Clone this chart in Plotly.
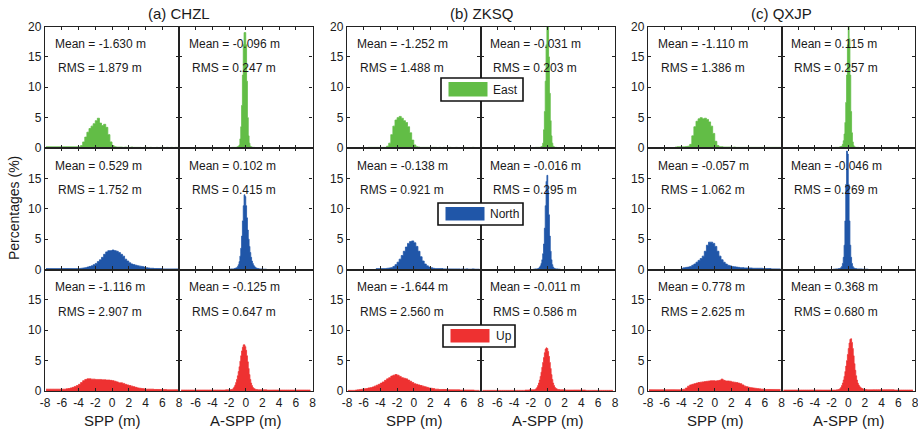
import plotly.graph_objects as go

# ---------------- data ----------------
STATIONS = ["(a) CHZL", "(b) ZKSQ", "(c) QXJP"]
COMPONENTS = ["East", "North", "Up"]
COLORS = ["#62BD46", "#2056A8", "#EE3131"]
X_TICKS = [-8, -6, -4, -2, 0, 2, 4, 6, 8]
Y_TICKS = [0, 5, 10, 15, 20]
X_TITLES = ["SPP (m)", "A-SPP (m)"]
Y_TITLE = "Percentages (%)"

SPP_BIN_START, SPP_BIN_WIDTH = -8.0, 0.25      # 64 bins over [-8, 8]
ASPP_BIN_START, ASPP_BIN_WIDTH = -3.0, 0.1     # 60 bins over [-3, 3]
TAIL_LO_START, TAIL_HI_START, TAIL_BIN_WIDTH = -8.0, 3.0, 0.5  # 10 bins each side

# --- CHZL ---
CHZL_E_SPP = [0.2, 0.2, 0.2, 0.2, 0.2, 0.2, 0.2, 0.2,
              0.2, 0.2, 0.2, 0.2, 0.2, 0.2, 0.2, 0.2,
              0.2, 0.4, 1.0, 1.8, 2.6, 3.2, 3.6, 4.0,
              4.5, 4.9, 4.1, 3.7, 3.9, 3.4, 2.2, 1.0,
              0.4, 0.2, 0.15, 0.15, 0.15, 0.1, 0.15, 0.1,
              0.1, 0.15, 0.1, 0.1, 0.1, 0.1, 0.05, 0.1,
              0.1, 0.05, 0.1, 0.0, 0.05, 0.1, 0.05, 0.1,
              0.1, 0.0, 0.1, 0.05, 0.1, 0.0, 0.1, 0.1]
CHZL_N_SPP = [0.15, 0.15, 0.15, 0.15, 0.15, 0.15, 0.15, 0.15,
              0.15, 0.15, 0.15, 0.15, 0.15, 0.15, 0.15, 0.15,
              0.15, 0.2, 0.25, 0.3, 0.4, 0.5, 0.6, 0.8,
              1.0, 1.3, 1.6, 2.0, 2.5, 2.9, 3.1, 3.1,
              3.2, 3.1, 3.0, 2.8, 2.5, 2.2, 1.7, 1.4,
              1.1, 0.9, 0.8, 0.7, 0.6, 0.55, 0.5, 0.4,
              0.3, 0.25, 0.2, 0.2, 0.15, 0.15, 0.15, 0.15,
              0.1, 0.1, 0.1, 0.1, 0.1, 0.1, 0.1, 0.1]
CHZL_U_SPP = [0.3, 0.3, 0.3, 0.3, 0.3, 0.3, 0.3, 0.3,
              0.3, 0.3, 0.35, 0.4, 0.5, 0.6, 0.75, 0.9,
              1.1, 1.4, 1.7, 1.9, 2.0, 2.0, 1.95, 1.95,
              1.9, 1.9, 1.9, 1.85, 1.85, 1.8, 1.8, 1.75,
              1.7, 1.6, 1.5, 1.35, 1.35, 1.25, 1.1, 1.0,
              0.9, 0.8, 0.7, 0.6, 0.5, 0.45, 0.4, 0.35,
              0.3, 0.3, 0.3, 0.3, 0.25, 0.25, 0.25, 0.25,
              0.25, 0.25, 0.2, 0.2, 0.2, 0.2, 0.2, 0.2]
CHZL_E_ASPP = [0.05, 0.05, 0.05, 0.05, 0.05, 0.05, 0.05, 0.05, 0.05, 0.05,
               0.05, 0.05, 0.05, 0.1, 0.1, 0.1, 0.1, 0.1, 0.1, 0.15,
               0.2, 0.3, 0.5, 1.5, 3.5, 7.0, 12.0, 17.0, 19.0, 19.0,
               17.0, 11.0, 5.0, 2.0, 0.8, 0.3, 0.2, 0.15, 0.1, 0.1,
               0.1, 0.05, 0.05, 0.05, 0.05, 0.05, 0.05, 0.05, 0.05, 0.05,
               0.0, 0.0, 0.0, 0.0, 0.0, 0.0, 0.0, 0.0, 0.0, 0.0]
CHZL_N_ASPP = [0.0, 0.0, 0.0, 0.0, 0.0, 0.0, 0.0, 0.0, 0.0, 0.0,
               0.05, 0.05, 0.1, 0.1, 0.1, 0.1, 0.15, 0.2, 0.25, 0.3,
               0.5, 0.8, 1.3, 2.2, 3.5, 5.5, 8.0, 10.5, 12.3, 12.0,
               10.5, 8.5, 6.5, 5.0, 3.8, 2.8, 2.0, 1.4, 1.0, 0.7,
               0.5, 0.35, 0.25, 0.2, 0.15, 0.15, 0.1, 0.1, 0.1, 0.1,
               0.05, 0.05, 0.05, 0.05, 0.05, 0.0, 0.0, 0.0, 0.0, 0.0]
CHZL_U_ASPP = [0.15, 0.15, 0.15, 0.15, 0.15, 0.15, 0.2, 0.2, 0.2, 0.2,
               0.2, 0.2, 0.25, 0.25, 0.3, 0.5, 0.7, 1.0, 1.4, 1.9,
               2.5, 3.2, 4.0, 4.9, 5.8, 6.6, 7.2, 7.6, 7.6, 7.3,
               6.7, 5.8, 4.8, 3.7, 2.7, 1.9, 1.3, 0.9, 0.6, 0.45,
               0.35, 0.3, 0.25, 0.25, 0.2, 0.2, 0.2, 0.2, 0.2, 0.2,
               0.2, 0.2, 0.2, 0.2, 0.2, 0.15, 0.15, 0.15, 0.15, 0.15]
CHZL_U_ASPP_TAIL_LO = [0.15, 0.15, 0.15, 0.15, 0.15, 0.15, 0.15, 0.15, 0.15, 0.15]
CHZL_U_ASPP_TAIL_HI = [0.15, 0.15, 0.15, 0.15, 0.15, 0.15, 0.15, 0.15, 0.15, 0.15]
CHZL_SPP_MEAN, CHZL_SPP_RMS = [-1.630, 0.529, -1.116], [1.879, 1.752, 2.907]
CHZL_ASPP_MEAN, CHZL_ASPP_RMS = [-0.096, 0.102, -0.125], [0.247, 0.415, 0.647]

# --- ZKSQ ---
ZKSQ_E_SPP = [0.0, 0.0, 0.0, 0.0, 0.0, 0.0, 0.0, 0.0,
              0.0, 0.0, 0.1, 0.1, 0.1, 0.1, 0.1, 0.1,
              0.1, 0.1, 0.1, 0.3, 0.8, 2.2, 3.6, 4.6,
              5.0, 5.2, 4.9, 4.5, 4.2, 3.5, 2.5, 1.3,
              0.5, 0.2, 0.15, 0.1, 0.1, 0.1, 0.1, 0.1,
              0.1, 0.1, 0.1, 0.05, 0.1, 0.05, 0.1, 0.05,
              0.05, 0.1, 0.05, 0.0, 0.1, 0.05, 0.0, 0.05,
              0.1, 0.05, 0.0, 0.05, 0.1, 0.05, 0.0, 0.05]
ZKSQ_N_SPP = [0.0, 0.0, 0.0, 0.0, 0.0, 0.0, 0.0, 0.0,
              0.0, 0.0, 0.0, 0.0, 0.0, 0.0, 0.15, 0.15,
              0.15, 0.15, 0.15, 0.2, 0.25, 0.3, 0.5, 0.8,
              1.2, 1.7, 2.3, 3.0, 3.7, 4.3, 4.6, 4.7,
              4.4, 3.8, 3.0, 2.1, 1.4, 0.9, 0.6, 0.4,
              0.3, 0.2, 0.15, 0.15, 0.15, 0.15, 0.1, 0.1,
              0.1, 0.1, 0.1, 0.1, 0.1, 0.1, 0.05, 0.1,
              0.05, 0.1, 0.05, 0.05, 0.1, 0.05, 0.05, 0.05]
ZKSQ_U_SPP = [0.1, 0.1, 0.1, 0.1, 0.15, 0.2, 0.25, 0.3,
              0.35, 0.4, 0.5, 0.55, 0.65, 0.8, 0.95, 1.1,
              1.3, 1.5, 1.75, 2.0, 2.2, 2.45, 2.6, 2.7,
              2.6, 2.4, 2.2, 2.1, 2.0, 1.8, 1.6, 1.4,
              1.2, 1.1, 1.0, 0.9, 0.8, 0.7, 0.6, 0.5,
              0.45, 0.4, 0.3, 0.3, 0.25, 0.25, 0.25, 0.25,
              0.2, 0.2, 0.2, 0.2, 0.2, 0.2, 0.15, 0.15,
              0.15, 0.15, 0.15, 0.15, 0.15, 0.1, 0.1, 0.1]
ZKSQ_E_ASPP = [0.0, 0.0, 0.0, 0.0, 0.0, 0.0, 0.0, 0.0, 0.0, 0.0,
               0.0, 0.0, 0.0, 0.0, 0.0, 0.1, 0.1, 0.1, 0.1, 0.1,
               0.1, 0.15, 0.2, 0.3, 0.8, 3.0, 6.0, 11.0, 17.0, 21.0,
               20.0, 15.0, 9.0, 4.5, 2.0, 0.8, 0.3, 0.2, 0.1, 0.1,
               0.1, 0.05, 0.05, 0.0, 0.0, 0.0, 0.0, 0.0, 0.0, 0.0,
               0.0, 0.0, 0.0, 0.0, 0.0, 0.0, 0.0, 0.0, 0.0, 0.0]
ZKSQ_N_ASPP = [0.0, 0.0, 0.0, 0.0, 0.0, 0.0, 0.0, 0.0, 0.0, 0.0,
               0.0, 0.0, 0.0, 0.05, 0.05, 0.1, 0.1, 0.1, 0.15, 0.2,
               0.4, 0.6, 1.0, 1.6, 2.6, 4.2, 6.8, 10.5, 14.5, 15.5,
               13.0, 9.0, 5.5, 3.0, 1.6, 0.8, 0.4, 0.2, 0.15, 0.1,
               0.1, 0.1, 0.05, 0.05, 0.05, 0.0, 0.0, 0.0, 0.0, 0.0,
               0.0, 0.0, 0.0, 0.0, 0.0, 0.0, 0.0, 0.0, 0.0, 0.0]
ZKSQ_U_ASPP = [0.1, 0.1, 0.1, 0.15, 0.15, 0.15, 0.15, 0.15, 0.2, 0.2,
               0.2, 0.2, 0.2, 0.2, 0.2, 0.3, 0.4, 0.6, 0.9, 1.3,
               1.8, 2.4, 3.1, 3.9, 4.7, 5.5, 6.3, 6.9, 7.1, 7.0,
               6.5, 5.7, 4.7, 3.7, 2.7, 1.9, 1.3, 0.9, 0.6, 0.45,
               0.35, 0.3, 0.25, 0.25, 0.2, 0.2, 0.2, 0.2, 0.2, 0.2,
               0.2, 0.15, 0.15, 0.15, 0.15, 0.15, 0.15, 0.15, 0.15, 0.15]
ZKSQ_U_ASPP_TAIL_LO = [0.1, 0.1, 0.1, 0.1, 0.1, 0.1, 0.1, 0.1, 0.1, 0.1]
ZKSQ_U_ASPP_TAIL_HI = [0.15, 0.15, 0.15, 0.1, 0.1, 0.1, 0.1, 0.1, 0.1, 0.1]
ZKSQ_SPP_MEAN, ZKSQ_SPP_RMS = [-1.252, -0.138, -1.644], [1.488, 0.921, 2.560]
ZKSQ_ASPP_MEAN, ZKSQ_ASPP_RMS = [-0.031, -0.016, -0.011], [0.203, 0.295, 0.586]

# --- QXJP ---
QXJP_E_SPP = [0.0, 0.0, 0.0, 0.0, 0.0, 0.0, 0.0, 0.0,
              0.0, 0.0, 0.0, 0.0, 0.0, 0.15, 0.2, 0.2,
              0.2, 0.2, 0.25, 0.3, 0.6, 2.0, 3.5, 4.4,
              4.8, 5.0, 4.8, 4.9, 4.7, 4.3, 3.6, 2.4,
              1.1, 0.4, 0.2, 0.2, 0.15, 0.15, 0.15, 0.15,
              0.1, 0.15, 0.1, 0.1, 0.1, 0.1, 0.1, 0.1,
              0.1, 0.1, 0.1, 0.1, 0.1, 0.1, 0.1, 0.1,
              0.1, 0.1, 0.1, 0.1, 0.1, 0.1, 0.1, 0.1]
QXJP_N_SPP = [0.0, 0.0, 0.0, 0.0, 0.0, 0.0, 0.0, 0.0,
              0.0, 0.0, 0.0, 0.0, 0.0, 0.0, 0.0, 0.0,
              0.2, 0.3, 0.35, 0.4, 0.5, 0.7, 0.9, 1.2,
              1.5, 1.8, 2.2, 3.0, 4.0, 4.5, 4.5, 4.3,
              3.8, 3.0, 2.2, 1.6, 1.2, 0.9, 0.7, 0.6,
              0.5, 0.45, 0.4, 0.35, 0.3, 0.3, 0.25, 0.25,
              0.25, 0.25, 0.2, 0.2, 0.2, 0.2, 0.2, 0.15,
              0.15, 0.15, 0.15, 0.1, 0.1, 0.1, 0.1, 0.1]
QXJP_U_SPP = [0.2, 0.2, 0.2, 0.2, 0.2, 0.2, 0.2, 0.2,
              0.2, 0.2, 0.2, 0.2, 0.2, 0.2, 0.2, 0.2,
              0.25, 0.3, 0.5, 0.8, 1.0, 1.1, 1.2, 1.3,
              1.4, 1.45, 1.5, 1.55, 1.6, 1.65, 1.7, 1.7,
              1.65, 1.7, 1.75, 1.95, 1.75, 1.65, 1.65, 1.6,
              1.5, 1.45, 1.4, 1.3, 1.2, 1.0, 0.8, 0.7,
              0.6, 0.55, 0.5, 0.45, 0.4, 0.35, 0.3, 0.3,
              0.25, 0.25, 0.25, 0.25, 0.25, 0.25, 0.25, 0.25]
QXJP_E_ASPP = [0.0, 0.0, 0.0, 0.0, 0.0, 0.0, 0.0, 0.0, 0.0, 0.0,
               0.05, 0.05, 0.05, 0.05, 0.1, 0.1, 0.1, 0.1, 0.1, 0.15,
               0.2, 0.25, 0.3, 0.6, 1.2, 2.3, 4.2, 7.5, 12.0, 17.0,
               21.0, 18.0, 12.0, 6.0, 2.5, 1.0, 0.4, 0.2, 0.15, 0.1,
               0.1, 0.1, 0.1, 0.05, 0.05, 0.05, 0.05, 0.05, 0.05, 0.05,
               0.05, 0.05, 0.05, 0.05, 0.05, 0.0, 0.0, 0.0, 0.0, 0.0]
QXJP_N_ASPP = [0.0, 0.0, 0.0, 0.0, 0.0, 0.0, 0.0, 0.0, 0.0, 0.0,
               0.0, 0.0, 0.05, 0.05, 0.05, 0.1, 0.1, 0.1, 0.15, 0.15,
               0.2, 0.3, 0.5, 1.0, 2.0, 4.0, 8.0, 14.0, 19.5, 19.0,
               14.0, 8.0, 4.0, 2.0, 1.0, 0.5, 0.3, 0.2, 0.15, 0.15,
               0.1, 0.1, 0.1, 0.1, 0.1, 0.1, 0.05, 0.05, 0.05, 0.05,
               0.05, 0.05, 0.05, 0.05, 0.0, 0.0, 0.0, 0.0, 0.0, 0.0]
QXJP_U_ASPP = [0.15, 0.15, 0.15, 0.15, 0.15, 0.15, 0.15, 0.15, 0.15, 0.15,
               0.15, 0.15, 0.15, 0.15, 0.15, 0.15, 0.2, 0.2, 0.25, 0.3,
               0.4, 0.6, 0.9, 1.3, 1.8, 2.4, 3.2, 4.1, 5.0, 6.0,
               7.0, 7.9, 8.5, 8.6, 8.0, 7.0, 5.8, 4.5, 3.4, 2.5,
               1.8, 1.3, 1.0, 0.8, 0.6, 0.5, 0.4, 0.35, 0.3, 0.3,
               0.25, 0.25, 0.2, 0.2, 0.2, 0.2, 0.2, 0.2, 0.2, 0.2]
QXJP_U_ASPP_TAIL_LO = [0.15, 0.15, 0.15, 0.15, 0.15, 0.15, 0.15, 0.15, 0.15, 0.15]
QXJP_U_ASPP_TAIL_HI = [0.2, 0.2, 0.2, 0.2, 0.2, 0.15, 0.15, 0.15, 0.15, 0.15]
QXJP_SPP_MEAN, QXJP_SPP_RMS = [-1.110, -0.057, 0.778], [1.386, 1.062, 2.625]
QXJP_ASPP_MEAN, QXJP_ASPP_RMS = [0.115, -0.046, 0.368], [0.257, 0.269, 0.680]

# ---------------- assembly ----------------
SPP = [[CHZL_E_SPP, CHZL_N_SPP, CHZL_U_SPP],
       [ZKSQ_E_SPP, ZKSQ_N_SPP, ZKSQ_U_SPP],
       [QXJP_E_SPP, QXJP_N_SPP, QXJP_U_SPP]]
ASPP = [[CHZL_E_ASPP, CHZL_N_ASPP, CHZL_U_ASPP],
        [ZKSQ_E_ASPP, ZKSQ_N_ASPP, ZKSQ_U_ASPP],
        [QXJP_E_ASPP, QXJP_N_ASPP, QXJP_U_ASPP]]
TAILS = [[None, None, (CHZL_U_ASPP_TAIL_LO, CHZL_U_ASPP_TAIL_HI)],
         [None, None, (ZKSQ_U_ASPP_TAIL_LO, ZKSQ_U_ASPP_TAIL_HI)],
         [None, None, (QXJP_U_ASPP_TAIL_LO, QXJP_U_ASPP_TAIL_HI)]]
STATS = [[(CHZL_SPP_MEAN, CHZL_SPP_RMS), (CHZL_ASPP_MEAN, CHZL_ASPP_RMS)],
         [(ZKSQ_SPP_MEAN, ZKSQ_SPP_RMS), (ZKSQ_ASPP_MEAN, ZKSQ_ASPP_RMS)],
         [(QXJP_SPP_MEAN, QXJP_SPP_RMS), (QXJP_ASPP_MEAN, QXJP_ASPP_RMS)]]


def centers(start, width, n):
    return [start + width * (i + 0.5) for i in range(n)]


# ---------------- layout geometry (pixels) ----------------
W, H = 918, 433
COL_PX = [(45, 179), (179, 312.5), (347, 480.5), (480.5, 615), (648, 781.5), (781.5, 915)]
ROW_PX = [(26.5, 148), (148, 269.5), (269.5, 391)]
FONT = "Liberation Sans, Arial, Helvetica, sans-serif"
AX_COLOR = "#222222"
TXT_COLOR = "#1a1a1a"


def px(x):
    return x / W


def py(y):
    return 1 - y / H


fig = go.Figure()
layout = dict(width=W, height=H, margin=dict(l=0, r=0, t=0, b=0, autoexpand=False),
              template="none",
              paper_bgcolor="white", plot_bgcolor="white", showlegend=False,
              font=dict(family=FONT, size=12, color=TXT_COLOR))
annotations = []
shapes = []

for s in range(3):
    for r in range(3):
        for p in range(2):
            c = s * 2 + p
            k = r * 6 + c + 1
            xa = "x" if k == 1 else f"x{k}"
            ya = "y" if k == 1 else f"y{k}"
            color = COLORS[r]
            if p == 0:
                vals = SPP[s][r]
                xs = centers(SPP_BIN_START, SPP_BIN_WIDTH, len(vals))
                ys = list(vals)
            else:
                core = ASPP[s][r]
                xs = centers(ASPP_BIN_START, ASPP_BIN_WIDTH, len(core))
                ys = list(core)
                tail = TAILS[s][r]
                if tail is not None:
                    lo, hi = tail
                    xs = centers(TAIL_LO_START, TAIL_BIN_WIDTH, len(lo)) + xs + \
                        centers(TAIL_HI_START, TAIL_BIN_WIDTH, len(hi))
                    ys = list(lo) + ys + list(hi)
            fig.add_trace(go.Scatter(x=xs, y=ys, mode="lines", line_shape="hvh",
                                     fill="tozeroy", fillcolor=color,
                                     line=dict(color=color, width=0.8),
                                     xaxis=xa, yaxis=ya, hoverinfo="skip"))

            x0, x1 = COL_PX[c]
            y0, y1 = ROW_PX[r]
            bottom = r == 2
            xt_vals = X_TICKS if p == 0 else X_TICKS[1:]
            layout["xaxis" if k == 1 else f"xaxis{k}"] = dict(
                domain=[px(x0), px(x1)], anchor=ya, range=[-8, 8], automargin=False,
                tickmode="array", tickvals=X_TICKS,
                ticktext=[str(v) if (bottom and v in xt_vals) else "" for v in X_TICKS],
                ticks="inside", ticklen=3, tickwidth=1, tickcolor=AX_COLOR,
                showline=True, linecolor=AX_COLOR, linewidth=1.3, mirror="ticks",
                showgrid=False, zeroline=False, layer="above traces",
                ticklabeloverflow="allow",
                tickfont=dict(size=12, color=TXT_COLOR), fixedrange=True)
            yt_text = [str(v) if (p == 0 and (r == 0 or v != 20)) else "" for v in Y_TICKS]
            layout["yaxis" if k == 1 else f"yaxis{k}"] = dict(
                domain=[py(y1), py(y0)], anchor=xa, range=[0, 20], automargin=False,
                tickmode="array", tickvals=Y_TICKS, ticktext=yt_text,
                ticks="inside", ticklen=3, tickwidth=1, tickcolor=AX_COLOR,
                showline=True, linecolor=AX_COLOR, linewidth=1.3, mirror="ticks",
                showgrid=False, zeroline=False, layer="above traces",
                ticklabeloverflow="allow",
                tickfont=dict(size=12, color=TXT_COLOR), fixedrange=True)

            means, rmss = STATS[s][p]
            annotations.append(dict(x=px(x0 + 7.5), y=py(y0 + 17.5), xref="paper", yref="paper",
                                    text=f"Mean = {means[r]:.3f} m", showarrow=False,
                                    xanchor="left", yanchor="middle",
                                    font=dict(size=12, color=TXT_COLOR)))
            annotations.append(dict(x=px(x0 + 10.5), y=py(y0 + 42), xref="paper", yref="paper",
                                    text=f"RMS = {rmss[r]:.3f} m", showarrow=False,
                                    xanchor="left", yanchor="middle",
                                    font=dict(size=12, color=TXT_COLOR)))
            if bottom:
                annotations.append(dict(x=px((x0 + x1) / 2), y=py(420.5), xref="paper", yref="paper",
                                        text=X_TITLES[p], showarrow=False,
                                        xanchor="center", yanchor="middle",
                                        font=dict(size=15, color=TXT_COLOR)))
    # station title
    gx = (COL_PX[2 * s][0] + COL_PX[2 * s + 1][1]) / 2
    annotations.append(dict(x=px(gx), y=py(14), xref="paper", yref="paper",
                            text=STATIONS[s], showarrow=False, xanchor="center",
                            yanchor="middle", font=dict(size=15, color=TXT_COLOR)))

annotations.append(dict(x=px(14), y=py(208), xref="paper", yref="paper", text=Y_TITLE,
                        showarrow=False, textangle=-90, xanchor="center", yanchor="middle",
                        font=dict(size=14, color=TXT_COLOR)))

# legend boxes (one per component, as in the original)
LEG_BOX = [(441, 78, 523, 101), (438, 203, 523, 225), (443, 325, 515, 347)]
for r, (bx0, by0, bx1, by1) in enumerate(LEG_BOX):
    shapes.append(dict(type="rect", xref="paper", yref="paper", layer="above",
                       x0=px(bx0), x1=px(bx1), y0=py(by1), y1=py(by0),
                       fillcolor="white", line=dict(color="#111111", width=1.6)))
    sy0, sy1 = by0 + 4, by1 - 4.5
    shapes.append(dict(type="rect", xref="paper", yref="paper", layer="above",
                       x0=px(bx0 + 7.5), x1=px(bx0 + 46.5), y0=py(sy1), y1=py(sy0),
                       fillcolor=COLORS[r], line=dict(color=COLORS[r], width=0)))
    annotations.append(dict(x=px(bx0 + 50.5), y=py((by0 + by1) / 2), xref="paper", yref="paper",
                            text=COMPONENTS[r], showarrow=False, xanchor="left",
                            yanchor="middle", font=dict(size=12, color=TXT_COLOR)))

layout["annotations"] = annotations
layout["shapes"] = shapes
fig.update_layout(**layout)
fig.write_html("out.html", config={"displayModeBar": False},
               post_script="document.body.style.margin='0';document.body.style.overflow='hidden';")
